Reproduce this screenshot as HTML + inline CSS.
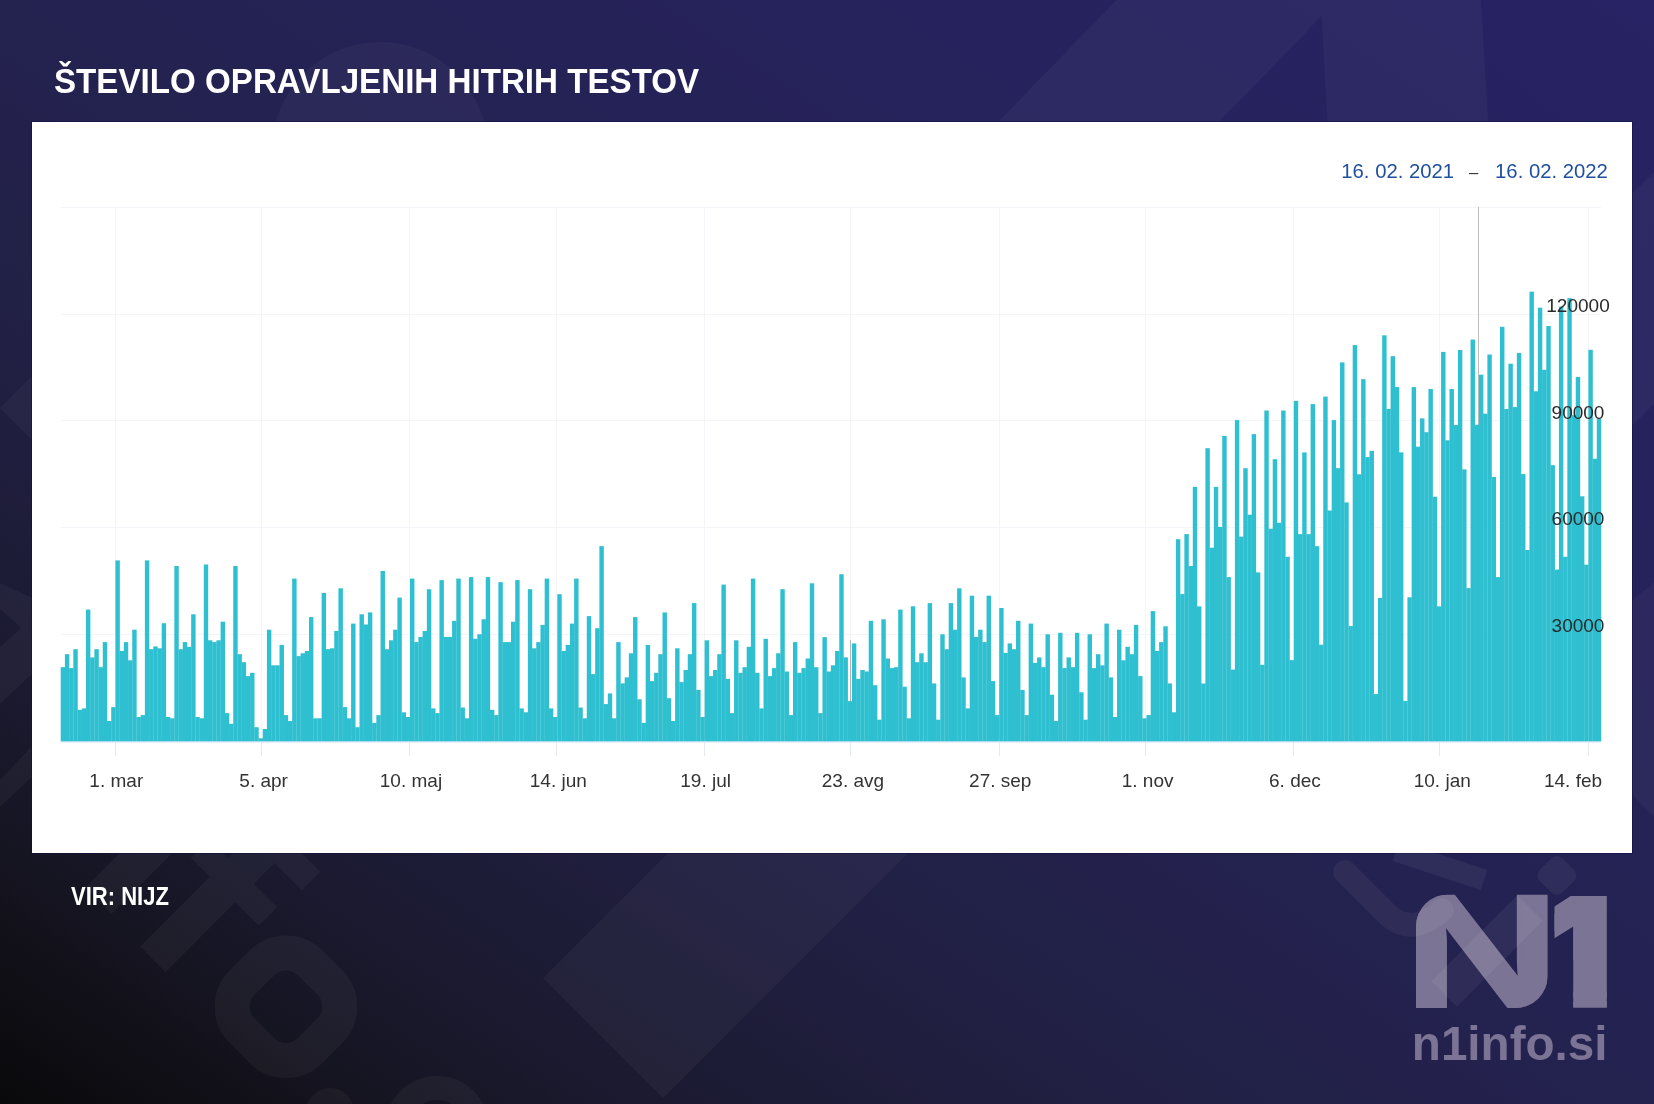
<!DOCTYPE html>
<html lang="sl">
<head>
<meta charset="utf-8">
<title>Število opravljenih hitrih testov</title>
<style>
html,body{margin:0;padding:0;}
body{width:1654px;height:1104px;overflow:hidden;position:relative;font-family:"Liberation Sans",sans-serif;
background:#24224f;}
.bg{position:absolute;left:0;top:0;width:1654px;height:1104px;}
.title{position:absolute;left:54.3px;top:61px;color:#fff;font-weight:700;font-size:35px;line-height:40px;white-space:nowrap;transform-origin:0 0;transform:scaleX(0.947);}
.panel{position:absolute;left:32px;top:122px;width:1600px;height:731px;background:#fff;box-shadow:0 0 0 1px rgba(16,12,60,0.5);}
.src{position:absolute;left:71px;top:880px;color:#fff;font-weight:700;font-size:25.6px;line-height:32px;white-space:nowrap;transform-origin:0 0;transform:scaleX(0.861);}
svg text{font-family:"Liberation Sans",sans-serif;}
</style>
</head>
<body>
<svg class="bg" width="1654" height="1104" viewBox="0 0 1654 1104">
<defs>
<linearGradient id="g1" gradientUnits="userSpaceOnUse" x1="1336.5" y1="-211.5" x2="317.5" y2="1315.5">
<stop offset="0" stop-color="#272364"/>
<stop offset="0.25" stop-color="#26225c"/>
<stop offset="0.45" stop-color="#242252"/>
<stop offset="0.5" stop-color="#24224f"/>
<stop offset="0.55" stop-color="#23214c"/>
<stop offset="0.6" stop-color="#222148"/>
<stop offset="0.65" stop-color="#212044"/>
<stop offset="0.7" stop-color="#201e3e"/>
<stop offset="0.75" stop-color="#1d1c37"/>
<stop offset="0.8" stop-color="#1b1a31"/>
<stop offset="0.85" stop-color="#181728"/>
<stop offset="0.9" stop-color="#14131e"/>
<stop offset="0.95" stop-color="#0f0e14"/>
<stop offset="1" stop-color="#09090b"/>
</linearGradient>
</defs>
<rect width="1654" height="1104" fill="#24224f"/>
<rect width="1654" height="1104" fill="url(#g1)"/>
<g fill="none" stroke="#fff" opacity="0.04">
<line x1="98.5" y1="900.7" x2="170" y2="829.2" stroke-width="37"/>
<path d="M152.9,959.2 L300,812" stroke-width="36"/>
<path d="M200,848.5 L268,916.5 M275,845 L311,881" stroke-width="26"/>
<rect x="238" y="958.7" width="96" height="96" rx="34" stroke-width="35" transform="rotate(45 286 1006.7)"/>
<circle cx="437" cy="1128" r="40" stroke-width="24"/>
<circle cx="330" cy="1112" r="14" stroke-width="20"/>
</g>
<g fill="#fff" fill-opacity="0.035">
<polygon points="543,978 668,853 908,853 663,1098"/>
<polygon points="998,122 1116.5,0 1481,0 1488,122 1327.5,122 1321.6,16 1219,122"/>
<polygon points="0,408 55,353 55,463"/>
<polygon points="0,583 32,598 32,674 0,704 0,647 21,628 0,609"/>
<polygon points="0,780 32,746 32,777 0,807"/>
<polygon points="1632,194 1654,172 1654,404 1632,426"/>
<polygon points="1632,600 1654,583 1654,817 1632,795"/>
<circle cx="380" cy="150" r="108"/>
</g>
</svg>
<div class="title" id="title">ŠTEVILO OPRAVLJENIH HITRIH TESTOV</div>
<div class="panel">
<svg width="1600" height="731" viewBox="0 0 1600 731">
<g stroke="#f4f5f8" stroke-width="1" fill="none"><line x1="29" y1="85.5" x2="1569" y2="85.5"/><line x1="29" y1="192.5" x2="1569" y2="192.5"/><line x1="29" y1="298.5" x2="1569" y2="298.5"/><line x1="29" y1="405.5" x2="1569" y2="405.5"/><line x1="29" y1="512.5" x2="1569" y2="512.5"/><line x1="83.5" y1="85.5" x2="83.5" y2="619.5"/><line x1="229.5" y1="85.5" x2="229.5" y2="619.5"/><line x1="377.5" y1="85.5" x2="377.5" y2="619.5"/><line x1="524.5" y1="85.5" x2="524.5" y2="619.5"/><line x1="672.5" y1="85.5" x2="672.5" y2="619.5"/><line x1="818.5" y1="85.5" x2="818.5" y2="619.5"/><line x1="967.5" y1="85.5" x2="967.5" y2="619.5"/><line x1="1113.5" y1="85.5" x2="1113.5" y2="619.5"/><line x1="1261.5" y1="85.5" x2="1261.5" y2="619.5"/><line x1="1407.5" y1="85.5" x2="1407.5" y2="619.5"/><line x1="1556.5" y1="85.5" x2="1556.5" y2="619.5"/></g>
<line x1="1446.5" y1="85" x2="1446.5" y2="303" stroke="#bdbdbd" stroke-width="1"/>
<line x1="818.5" y1="518" x2="818.5" y2="580" stroke="#b4b4b4" stroke-width="1"/>
<g fill="#2ebfd0">
<rect x="28.7" y="545.2" width="4.41" height="74.4"/>
<rect x="32.91" y="532.2" width="4.41" height="87.4"/>
<rect x="37.12" y="546.1" width="4.41" height="73.5"/>
<rect x="41.33" y="527.2" width="4.41" height="92.4"/>
<rect x="45.53" y="587.9" width="4.41" height="31.7"/>
<rect x="49.74" y="586.4" width="4.41" height="33.2"/>
<rect x="53.95" y="487.6" width="4.41" height="132"/>
<rect x="58.16" y="535.4" width="4.41" height="84.2"/>
<rect x="62.37" y="527.2" width="4.41" height="92.4"/>
<rect x="66.58" y="545.2" width="4.41" height="74.4"/>
<rect x="70.78" y="520.1" width="4.41" height="99.5"/>
<rect x="74.99" y="599" width="4.41" height="20.6"/>
<rect x="79.2" y="585.1" width="4.41" height="34.5"/>
<rect x="83.41" y="438.4" width="4.41" height="181.2"/>
<rect x="87.62" y="529" width="4.41" height="90.6"/>
<rect x="91.83" y="520.1" width="4.41" height="99.5"/>
<rect x="96.04" y="538.3" width="4.41" height="81.3"/>
<rect x="100.24" y="507.7" width="4.41" height="111.9"/>
<rect x="104.45" y="595" width="4.41" height="24.6"/>
<rect x="108.66" y="593.1" width="4.41" height="26.5"/>
<rect x="112.87" y="438.4" width="4.41" height="181.2"/>
<rect x="117.08" y="527.2" width="4.41" height="92.4"/>
<rect x="121.29" y="524.4" width="4.41" height="95.2"/>
<rect x="125.5" y="526.3" width="4.41" height="93.3"/>
<rect x="129.7" y="501.2" width="4.41" height="118.4"/>
<rect x="133.91" y="595" width="4.41" height="24.6"/>
<rect x="138.12" y="596.3" width="4.41" height="23.3"/>
<rect x="142.33" y="444" width="4.41" height="175.6"/>
<rect x="146.54" y="527.2" width="4.41" height="92.4"/>
<rect x="150.75" y="520.1" width="4.41" height="99.5"/>
<rect x="154.95" y="524.8" width="4.41" height="94.8"/>
<rect x="159.16" y="492.3" width="4.41" height="127.3"/>
<rect x="163.37" y="595" width="4.41" height="24.6"/>
<rect x="167.58" y="596.3" width="4.41" height="23.3"/>
<rect x="171.79" y="442.5" width="4.41" height="177.1"/>
<rect x="176" y="518.3" width="4.41" height="101.3"/>
<rect x="180.21" y="520.1" width="4.41" height="99.5"/>
<rect x="184.41" y="518.3" width="4.41" height="101.3"/>
<rect x="188.62" y="499.7" width="4.41" height="119.9"/>
<rect x="192.83" y="591.1" width="4.41" height="28.5"/>
<rect x="197.04" y="601.8" width="4.41" height="17.8"/>
<rect x="201.25" y="444" width="4.41" height="175.6"/>
<rect x="205.46" y="532.2" width="4.41" height="87.4"/>
<rect x="209.67" y="540.2" width="4.41" height="79.4"/>
<rect x="213.87" y="554.1" width="4.41" height="65.5"/>
<rect x="218.08" y="550.8" width="4.41" height="68.8"/>
<rect x="222.29" y="605.2" width="4.41" height="14.4"/>
<rect x="226.5" y="616.3" width="4.41" height="3.3"/>
<rect x="230.71" y="607" width="4.41" height="12.6"/>
<rect x="234.92" y="507.7" width="4.41" height="111.9"/>
<rect x="239.12" y="543.3" width="4.41" height="76.3"/>
<rect x="243.33" y="543.3" width="4.41" height="76.3"/>
<rect x="247.54" y="522.9" width="4.41" height="96.7"/>
<rect x="251.75" y="593.1" width="4.41" height="26.5"/>
<rect x="255.96" y="599" width="4.41" height="20.6"/>
<rect x="260.17" y="456.6" width="4.41" height="163"/>
<rect x="264.38" y="534.1" width="4.41" height="85.5"/>
<rect x="268.58" y="531.3" width="4.41" height="88.3"/>
<rect x="272.79" y="529" width="4.41" height="90.6"/>
<rect x="277" y="495.1" width="4.41" height="124.5"/>
<rect x="281.21" y="596.3" width="4.41" height="23.3"/>
<rect x="285.42" y="596.3" width="4.41" height="23.3"/>
<rect x="289.63" y="470.9" width="4.41" height="148.7"/>
<rect x="293.84" y="527.2" width="4.41" height="92.4"/>
<rect x="298.04" y="526.3" width="4.41" height="93.3"/>
<rect x="302.25" y="509" width="4.41" height="110.6"/>
<rect x="306.46" y="466.3" width="4.41" height="153.3"/>
<rect x="310.67" y="585.1" width="4.41" height="34.5"/>
<rect x="314.88" y="596.3" width="4.41" height="23.3"/>
<rect x="319.09" y="501.6" width="4.41" height="118"/>
<rect x="323.29" y="605.2" width="4.41" height="14.4"/>
<rect x="327.5" y="492.3" width="4.41" height="127.3"/>
<rect x="331.71" y="502.5" width="4.41" height="117.1"/>
<rect x="335.92" y="490.4" width="4.41" height="129.2"/>
<rect x="340.13" y="600.9" width="4.41" height="18.7"/>
<rect x="344.34" y="593.1" width="4.41" height="26.5"/>
<rect x="348.55" y="449" width="4.41" height="170.6"/>
<rect x="352.75" y="527.2" width="4.41" height="92.4"/>
<rect x="356.96" y="518.3" width="4.41" height="101.3"/>
<rect x="361.17" y="507.7" width="4.41" height="111.9"/>
<rect x="365.38" y="475.6" width="4.41" height="144"/>
<rect x="369.59" y="590.3" width="4.41" height="29.3"/>
<rect x="373.8" y="595" width="4.41" height="24.6"/>
<rect x="378.01" y="456.6" width="4.41" height="163"/>
<rect x="382.21" y="520.1" width="4.41" height="99.5"/>
<rect x="386.42" y="514.9" width="4.41" height="104.7"/>
<rect x="390.63" y="509" width="4.41" height="110.6"/>
<rect x="394.84" y="467.2" width="4.41" height="152.4"/>
<rect x="399.05" y="586.4" width="4.41" height="33.2"/>
<rect x="403.26" y="591.1" width="4.41" height="28.5"/>
<rect x="407.46" y="458.1" width="4.41" height="161.5"/>
<rect x="411.67" y="514.9" width="4.41" height="104.7"/>
<rect x="415.88" y="514.9" width="4.41" height="104.7"/>
<rect x="420.09" y="498.8" width="4.41" height="120.8"/>
<rect x="424.3" y="456.6" width="4.41" height="163"/>
<rect x="428.51" y="585.5" width="4.41" height="34.1"/>
<rect x="432.72" y="596.3" width="4.41" height="23.3"/>
<rect x="436.92" y="455.1" width="4.41" height="164.5"/>
<rect x="441.13" y="516.8" width="4.41" height="102.8"/>
<rect x="445.34" y="512.3" width="4.41" height="107.3"/>
<rect x="449.55" y="497.3" width="4.41" height="122.3"/>
<rect x="453.76" y="455.1" width="4.41" height="164.5"/>
<rect x="457.97" y="587.9" width="4.41" height="31.7"/>
<rect x="462.18" y="593.1" width="4.41" height="26.5"/>
<rect x="466.38" y="460.2" width="4.41" height="159.4"/>
<rect x="470.59" y="520.1" width="4.41" height="99.5"/>
<rect x="474.8" y="520.1" width="4.41" height="99.5"/>
<rect x="479.01" y="499.7" width="4.41" height="119.9"/>
<rect x="483.22" y="458.1" width="4.41" height="161.5"/>
<rect x="487.43" y="586.4" width="4.41" height="33.2"/>
<rect x="491.63" y="590.3" width="4.41" height="29.3"/>
<rect x="495.84" y="467.2" width="4.41" height="152.4"/>
<rect x="500.05" y="526.3" width="4.41" height="93.3"/>
<rect x="504.26" y="520.1" width="4.41" height="99.5"/>
<rect x="508.47" y="502.9" width="4.41" height="116.7"/>
<rect x="512.68" y="456.6" width="4.41" height="163"/>
<rect x="516.89" y="586.4" width="4.41" height="33.2"/>
<rect x="521.09" y="595" width="4.41" height="24.6"/>
<rect x="525.3" y="472.2" width="4.41" height="147.4"/>
<rect x="529.51" y="529" width="4.41" height="90.6"/>
<rect x="533.72" y="522.9" width="4.41" height="96.7"/>
<rect x="537.93" y="501.6" width="4.41" height="118"/>
<rect x="542.14" y="456.6" width="4.41" height="163"/>
<rect x="546.35" y="585.5" width="4.41" height="34.1"/>
<rect x="550.55" y="596.3" width="4.41" height="23.3"/>
<rect x="554.76" y="494.1" width="4.41" height="125.5"/>
<rect x="558.97" y="552.1" width="4.41" height="67.5"/>
<rect x="563.18" y="506.2" width="4.41" height="113.4"/>
<rect x="567.39" y="424.1" width="4.41" height="195.5"/>
<rect x="571.6" y="582.1" width="4.41" height="37.5"/>
<rect x="575.81" y="571.4" width="4.41" height="48.2"/>
<rect x="580.01" y="596.3" width="4.41" height="23.3"/>
<rect x="584.22" y="520.1" width="4.41" height="99.5"/>
<rect x="588.43" y="561.4" width="4.41" height="58.2"/>
<rect x="592.64" y="555.4" width="4.41" height="64.2"/>
<rect x="596.85" y="531.3" width="4.41" height="88.3"/>
<rect x="601.06" y="495.1" width="4.41" height="124.5"/>
<rect x="605.26" y="577.3" width="4.41" height="42.3"/>
<rect x="609.47" y="600.9" width="4.41" height="18.7"/>
<rect x="613.68" y="522.9" width="4.41" height="96.7"/>
<rect x="617.89" y="559.1" width="4.41" height="60.5"/>
<rect x="622.1" y="550.8" width="4.41" height="68.8"/>
<rect x="626.31" y="532.2" width="4.41" height="87.4"/>
<rect x="630.52" y="490.4" width="4.41" height="129.2"/>
<rect x="634.72" y="576.2" width="4.41" height="43.4"/>
<rect x="638.93" y="599" width="4.41" height="20.6"/>
<rect x="643.14" y="526.3" width="4.41" height="93.3"/>
<rect x="647.35" y="560.1" width="4.41" height="59.5"/>
<rect x="651.56" y="548" width="4.41" height="71.6"/>
<rect x="655.77" y="532.2" width="4.41" height="87.4"/>
<rect x="659.98" y="481.1" width="4.41" height="138.5"/>
<rect x="664.18" y="568" width="4.41" height="51.6"/>
<rect x="668.39" y="595" width="4.41" height="24.6"/>
<rect x="672.6" y="518.3" width="4.41" height="101.3"/>
<rect x="676.81" y="554.1" width="4.41" height="65.5"/>
<rect x="681.02" y="548" width="4.41" height="71.6"/>
<rect x="685.23" y="532.2" width="4.41" height="87.4"/>
<rect x="689.43" y="462.6" width="4.41" height="157"/>
<rect x="693.64" y="556.9" width="4.41" height="62.7"/>
<rect x="697.85" y="591.1" width="4.41" height="28.5"/>
<rect x="702.06" y="518.3" width="4.41" height="101.3"/>
<rect x="706.27" y="550.8" width="4.41" height="68.8"/>
<rect x="710.48" y="545.2" width="4.41" height="74.4"/>
<rect x="714.69" y="524.8" width="4.41" height="94.8"/>
<rect x="718.89" y="456.6" width="4.41" height="163"/>
<rect x="723.1" y="550.8" width="4.41" height="68.8"/>
<rect x="727.31" y="586.4" width="4.41" height="33.2"/>
<rect x="731.52" y="516.8" width="4.41" height="102.8"/>
<rect x="735.73" y="554.1" width="4.41" height="65.5"/>
<rect x="739.94" y="546.1" width="4.41" height="73.5"/>
<rect x="744.14" y="531.3" width="4.41" height="88.3"/>
<rect x="748.35" y="467.2" width="4.41" height="152.4"/>
<rect x="752.56" y="549.5" width="4.41" height="70.1"/>
<rect x="756.77" y="593.1" width="4.41" height="26.5"/>
<rect x="760.98" y="520.1" width="4.41" height="99.5"/>
<rect x="765.19" y="550.8" width="4.41" height="68.8"/>
<rect x="769.4" y="546.1" width="4.41" height="73.5"/>
<rect x="773.6" y="536.5" width="4.41" height="83.1"/>
<rect x="777.81" y="461.3" width="4.41" height="158.3"/>
<rect x="782.02" y="545.2" width="4.41" height="74.4"/>
<rect x="786.23" y="591.1" width="4.41" height="28.5"/>
<rect x="790.44" y="515.1" width="4.41" height="104.5"/>
<rect x="794.65" y="549.5" width="4.41" height="70.1"/>
<rect x="798.86" y="543.3" width="4.41" height="76.3"/>
<rect x="803.06" y="529" width="4.41" height="90.6"/>
<rect x="807.27" y="452.2" width="4.41" height="167.4"/>
<rect x="811.48" y="535.4" width="4.41" height="84.2"/>
<rect x="815.69" y="579.2" width="4.41" height="40.4"/>
<rect x="819.9" y="521.4" width="4.41" height="98.2"/>
<rect x="824.11" y="556.9" width="4.41" height="62.7"/>
<rect x="828.32" y="548" width="4.41" height="71.6"/>
<rect x="832.52" y="549.5" width="4.41" height="70.1"/>
<rect x="836.73" y="498.8" width="4.41" height="120.8"/>
<rect x="840.94" y="563.2" width="4.41" height="56.4"/>
<rect x="845.15" y="597.7" width="4.41" height="21.9"/>
<rect x="849.36" y="497.3" width="4.41" height="122.3"/>
<rect x="853.57" y="536.5" width="4.41" height="83.1"/>
<rect x="857.77" y="546.1" width="4.41" height="73.5"/>
<rect x="861.98" y="545.2" width="4.41" height="74.4"/>
<rect x="866.19" y="487.6" width="4.41" height="132"/>
<rect x="870.4" y="564.7" width="4.41" height="54.9"/>
<rect x="874.61" y="596.3" width="4.41" height="23.3"/>
<rect x="878.82" y="484.3" width="4.41" height="135.3"/>
<rect x="883.03" y="540.2" width="4.41" height="79.4"/>
<rect x="887.23" y="531.3" width="4.41" height="88.3"/>
<rect x="891.44" y="540.2" width="4.41" height="79.4"/>
<rect x="895.65" y="481.1" width="4.41" height="138.5"/>
<rect x="899.86" y="561.4" width="4.41" height="58.2"/>
<rect x="904.07" y="597.7" width="4.41" height="21.9"/>
<rect x="908.28" y="512.3" width="4.41" height="107.3"/>
<rect x="912.49" y="527.2" width="4.41" height="92.4"/>
<rect x="916.69" y="481.1" width="4.41" height="138.5"/>
<rect x="920.9" y="507.7" width="4.41" height="111.9"/>
<rect x="925.11" y="466.3" width="4.41" height="153.3"/>
<rect x="929.32" y="555.4" width="4.41" height="64.2"/>
<rect x="933.53" y="586.4" width="4.41" height="33.2"/>
<rect x="937.74" y="473.7" width="4.41" height="145.9"/>
<rect x="941.94" y="514.9" width="4.41" height="104.7"/>
<rect x="946.15" y="507.7" width="4.41" height="111.9"/>
<rect x="950.36" y="520.1" width="4.41" height="99.5"/>
<rect x="954.57" y="473.7" width="4.41" height="145.9"/>
<rect x="958.78" y="559.1" width="4.41" height="60.5"/>
<rect x="962.99" y="593.1" width="4.41" height="26.5"/>
<rect x="967.2" y="486" width="4.41" height="133.6"/>
<rect x="971.4" y="530.9" width="4.41" height="88.7"/>
<rect x="975.61" y="521.4" width="4.41" height="98.2"/>
<rect x="979.82" y="527.2" width="4.41" height="92.4"/>
<rect x="984.03" y="498.8" width="4.41" height="120.8"/>
<rect x="988.24" y="568" width="4.41" height="51.6"/>
<rect x="992.45" y="593.1" width="4.41" height="26.5"/>
<rect x="996.65" y="501.6" width="4.41" height="118"/>
<rect x="1000.86" y="540.9" width="4.41" height="78.7"/>
<rect x="1005.07" y="535.4" width="4.41" height="84.2"/>
<rect x="1009.28" y="545.2" width="4.41" height="74.4"/>
<rect x="1013.49" y="512.3" width="4.41" height="107.3"/>
<rect x="1017.7" y="572.7" width="4.41" height="46.9"/>
<rect x="1021.91" y="599" width="4.41" height="20.6"/>
<rect x="1026.11" y="510.8" width="4.41" height="108.8"/>
<rect x="1030.32" y="546.1" width="4.41" height="73.5"/>
<rect x="1034.53" y="535.4" width="4.41" height="84.2"/>
<rect x="1038.74" y="545.2" width="4.41" height="74.4"/>
<rect x="1042.95" y="510.8" width="4.41" height="108.8"/>
<rect x="1047.16" y="570.3" width="4.41" height="49.3"/>
<rect x="1051.37" y="597.7" width="4.41" height="21.9"/>
<rect x="1055.57" y="512.3" width="4.41" height="107.3"/>
<rect x="1059.78" y="546.1" width="4.41" height="73.5"/>
<rect x="1063.99" y="532.2" width="4.41" height="87.4"/>
<rect x="1068.2" y="543.3" width="4.41" height="76.3"/>
<rect x="1072.41" y="501.6" width="4.41" height="118"/>
<rect x="1076.62" y="555.4" width="4.41" height="64.2"/>
<rect x="1080.83" y="595" width="4.41" height="24.6"/>
<rect x="1085.03" y="507.7" width="4.41" height="111.9"/>
<rect x="1089.24" y="538.3" width="4.41" height="81.3"/>
<rect x="1093.45" y="524.8" width="4.41" height="94.8"/>
<rect x="1097.66" y="532.2" width="4.41" height="87.4"/>
<rect x="1101.87" y="502.9" width="4.41" height="116.7"/>
<rect x="1106.08" y="554.1" width="4.41" height="65.5"/>
<rect x="1110.28" y="596.3" width="4.41" height="23.3"/>
<rect x="1114.49" y="593.1" width="4.41" height="26.5"/>
<rect x="1118.7" y="489.1" width="4.41" height="130.5"/>
<rect x="1122.91" y="529" width="4.41" height="90.6"/>
<rect x="1127.12" y="520.1" width="4.41" height="99.5"/>
<rect x="1131.33" y="504.3" width="4.41" height="115.3"/>
<rect x="1135.54" y="561.4" width="4.41" height="58.2"/>
<rect x="1139.74" y="590.3" width="4.41" height="29.3"/>
<rect x="1143.95" y="417.2" width="4.41" height="202.4"/>
<rect x="1148.16" y="472.1" width="4.41" height="147.5"/>
<rect x="1152.37" y="412.1" width="4.41" height="207.5"/>
<rect x="1156.58" y="444" width="4.41" height="175.6"/>
<rect x="1160.79" y="364.9" width="4.41" height="254.7"/>
<rect x="1165" y="484.4" width="4.41" height="135.2"/>
<rect x="1169.2" y="561.5" width="4.41" height="58.1"/>
<rect x="1173.41" y="326.2" width="4.41" height="293.4"/>
<rect x="1177.62" y="425.7" width="4.41" height="193.9"/>
<rect x="1181.83" y="364.9" width="4.41" height="254.7"/>
<rect x="1186.04" y="405" width="4.41" height="214.6"/>
<rect x="1190.25" y="314" width="4.41" height="305.6"/>
<rect x="1194.45" y="455.1" width="4.41" height="164.5"/>
<rect x="1198.66" y="547.6" width="4.41" height="72"/>
<rect x="1202.87" y="298.1" width="4.41" height="321.5"/>
<rect x="1207.08" y="414.6" width="4.41" height="205"/>
<rect x="1211.29" y="346.2" width="4.41" height="273.4"/>
<rect x="1215.5" y="392.7" width="4.41" height="226.9"/>
<rect x="1219.71" y="312.1" width="4.41" height="307.5"/>
<rect x="1223.91" y="450.4" width="4.41" height="169.2"/>
<rect x="1228.12" y="542.8" width="4.41" height="76.8"/>
<rect x="1232.33" y="288.5" width="4.41" height="331.1"/>
<rect x="1236.54" y="406.7" width="4.41" height="212.9"/>
<rect x="1240.75" y="337.2" width="4.41" height="282.4"/>
<rect x="1244.96" y="400.8" width="4.41" height="218.8"/>
<rect x="1249.16" y="288.5" width="4.41" height="331.1"/>
<rect x="1253.37" y="434.8" width="4.41" height="184.8"/>
<rect x="1257.58" y="538.1" width="4.41" height="81.5"/>
<rect x="1261.79" y="278.9" width="4.41" height="340.7"/>
<rect x="1266" y="412.1" width="4.41" height="207.5"/>
<rect x="1270.21" y="330.4" width="4.41" height="289.2"/>
<rect x="1274.42" y="412.1" width="4.41" height="207.5"/>
<rect x="1278.62" y="282.1" width="4.41" height="337.5"/>
<rect x="1282.83" y="424.2" width="4.41" height="195.4"/>
<rect x="1287.04" y="522.7" width="4.41" height="96.9"/>
<rect x="1291.25" y="274.6" width="4.41" height="345"/>
<rect x="1295.46" y="388.5" width="4.41" height="231.1"/>
<rect x="1299.67" y="298.1" width="4.41" height="321.5"/>
<rect x="1303.88" y="346.2" width="4.41" height="273.4"/>
<rect x="1308.08" y="240.4" width="4.41" height="379.2"/>
<rect x="1312.29" y="380.4" width="4.41" height="239.2"/>
<rect x="1316.5" y="504" width="4.41" height="115.6"/>
<rect x="1320.71" y="223.1" width="4.41" height="396.5"/>
<rect x="1324.92" y="352.3" width="4.41" height="267.3"/>
<rect x="1329.13" y="257.2" width="4.41" height="362.4"/>
<rect x="1333.34" y="335.1" width="4.41" height="284.5"/>
<rect x="1337.54" y="328.9" width="4.41" height="290.7"/>
<rect x="1341.75" y="572.1" width="4.41" height="47.5"/>
<rect x="1345.96" y="475.9" width="4.41" height="143.7"/>
<rect x="1350.17" y="213.3" width="4.41" height="406.3"/>
<rect x="1354.38" y="287" width="4.41" height="332.6"/>
<rect x="1358.59" y="234.2" width="4.41" height="385.4"/>
<rect x="1362.79" y="265.1" width="4.41" height="354.5"/>
<rect x="1367" y="330.4" width="4.41" height="289.2"/>
<rect x="1371.21" y="578.9" width="4.41" height="40.7"/>
<rect x="1375.42" y="475.3" width="4.41" height="144.3"/>
<rect x="1379.63" y="265.1" width="4.41" height="354.5"/>
<rect x="1383.84" y="324.7" width="4.41" height="294.9"/>
<rect x="1388.05" y="296.4" width="4.41" height="323.2"/>
<rect x="1392.25" y="310.2" width="4.41" height="309.4"/>
<rect x="1396.46" y="267" width="4.41" height="352.6"/>
<rect x="1400.67" y="374.7" width="4.41" height="244.9"/>
<rect x="1404.88" y="484.4" width="4.41" height="135.2"/>
<rect x="1409.09" y="229.9" width="4.41" height="389.7"/>
<rect x="1413.3" y="318.3" width="4.41" height="301.3"/>
<rect x="1417.51" y="267" width="4.41" height="352.6"/>
<rect x="1421.71" y="303" width="4.41" height="316.6"/>
<rect x="1425.92" y="228" width="4.41" height="391.6"/>
<rect x="1430.13" y="347.4" width="4.41" height="272.2"/>
<rect x="1434.34" y="466.1" width="4.41" height="153.5"/>
<rect x="1438.55" y="217.6" width="4.41" height="402"/>
<rect x="1442.76" y="302.7" width="4.41" height="316.9"/>
<rect x="1446.96" y="252.7" width="4.41" height="366.9"/>
<rect x="1451.17" y="291.7" width="4.41" height="327.9"/>
<rect x="1455.38" y="232.5" width="4.41" height="387.1"/>
<rect x="1459.59" y="354.9" width="4.41" height="264.7"/>
<rect x="1463.8" y="455.1" width="4.41" height="164.5"/>
<rect x="1468.01" y="204.8" width="4.41" height="414.8"/>
<rect x="1472.22" y="287" width="4.41" height="332.6"/>
<rect x="1476.42" y="241.7" width="4.41" height="377.9"/>
<rect x="1480.63" y="285.1" width="4.41" height="334.5"/>
<rect x="1484.84" y="231" width="4.41" height="388.6"/>
<rect x="1489.05" y="352.1" width="4.41" height="267.5"/>
<rect x="1493.26" y="428" width="4.41" height="191.6"/>
<rect x="1497.47" y="169.7" width="4.41" height="449.9"/>
<rect x="1501.67" y="269.3" width="4.41" height="350.3"/>
<rect x="1505.88" y="185.7" width="4.41" height="433.9"/>
<rect x="1510.09" y="247.8" width="4.41" height="371.8"/>
<rect x="1514.3" y="204" width="4.41" height="415.6"/>
<rect x="1518.51" y="343.2" width="4.41" height="276.4"/>
<rect x="1522.72" y="447.6" width="4.41" height="172"/>
<rect x="1526.93" y="184.6" width="4.41" height="435"/>
<rect x="1531.13" y="434.8" width="4.41" height="184.8"/>
<rect x="1535.34" y="176.1" width="4.41" height="443.5"/>
<rect x="1539.55" y="293.2" width="4.41" height="326.4"/>
<rect x="1543.76" y="254.9" width="4.41" height="364.7"/>
<rect x="1547.97" y="374.3" width="4.41" height="245.3"/>
<rect x="1552.18" y="442.7" width="4.41" height="176.9"/>
<rect x="1556.39" y="227.8" width="4.41" height="391.8"/>
<rect x="1560.59" y="336.8" width="4.41" height="282.8"/>
<rect x="1564.8" y="296.4" width="4.41" height="323.2"/>
</g>
<line x1="29" y1="620.1" x2="1569" y2="620.1" stroke="#dfe6f6" stroke-width="1"/>
<g stroke="#e5e9f7" stroke-width="1"><line x1="83.5" y1="620" x2="83.5" y2="634"/><line x1="229.5" y1="620" x2="229.5" y2="634"/><line x1="377.5" y1="620" x2="377.5" y2="634"/><line x1="524.5" y1="620" x2="524.5" y2="634"/><line x1="672.5" y1="620" x2="672.5" y2="634"/><line x1="818.5" y1="620" x2="818.5" y2="634"/><line x1="967.5" y1="620" x2="967.5" y2="634"/><line x1="1113.5" y1="620" x2="1113.5" y2="634"/><line x1="1261.5" y1="620" x2="1261.5" y2="634"/><line x1="1407.5" y1="620" x2="1407.5" y2="634"/><line x1="1556.5" y1="620" x2="1556.5" y2="634"/></g>
<g font-size="19" fill="#333" text-anchor="middle"><text x="84.3" y="665">1. mar</text><text x="231.63" y="665">5. apr</text><text x="378.96" y="665">10. maj</text><text x="526.29" y="665">14. jun</text><text x="673.62" y="665">19. jul</text><text x="820.95" y="665">23. avg</text><text x="968.28" y="665">27. sep</text><text x="1115.61" y="665">1. nov</text><text x="1262.94" y="665">6. dec</text><text x="1410.27" y="665">10. jan</text><text x="1541" y="665">14. feb</text></g>
<g font-size="19" fill="#2a2a2a" text-anchor="middle"><text x="1546" y="189.88">120000</text><text x="1546" y="296.66">90000</text><text x="1546" y="403.44">60000</text><text x="1546" y="510.22">30000</text></g>
<g font-size="20.3" fill="#1f4f9f"><text x="1309.3" y="56.2">16. 02. 2021</text><text x="1437" y="55.5" fill="#333" font-size="16.7">–</text><text x="1463.1" y="56.2">16. 02. 2022</text></g>
</svg>
</div>
<div class="src" id="src">VIR: NIJZ</div>
<svg class="bg" width="1654" height="1104" viewBox="0 0 1654 1104" style="pointer-events:none">
<defs>
<clipPath id="cn"><path d="M1416,1008 V926 A31.5,31.5 0 0 1 1447.5,894.7 H1547.5 V976.5 A31.5,31.5 0 0 1 1516,1008 Z"/></clipPath>
<clipPath id="c1"><polygon points="1554.5,896 1606.8,896 1606.8,1007.5 1573.2,1007.5 1573.2,960 1554.5,960"/></clipPath>
</defs>
<g fill="#7b7494" font-weight="700">
<g clip-path="url(#cn)"><text id="logoN" transform="translate(1416,1008) scale(1.359,1)" x="-10.7" y="0" font-size="164" stroke="#7b7494" stroke-width="3">N</text></g>
<g clip-path="url(#c1)"><text id="logo1" x="1541.2" y="1007.5" font-size="162" stroke="#7b7494" stroke-width="12" stroke-linejoin="miter">1</text></g>
<g fill="none" stroke="#fff" opacity="0.05">
<line x1="1444.2" y1="994" x2="1530" y2="908" stroke-width="36"/>
<rect x="1540.9" y="859.5" width="32" height="32" rx="8" fill="#fff" stroke="none" transform="rotate(45 1556.9 875.5)"/>
<line x1="1396" y1="851" x2="1484" y2="880" stroke-width="21"/>
<path d="M1345,872 L1388,915 Q1412,937 1442,910" stroke-width="23.5" stroke-linecap="round"/>
</g>
<text id="site" transform="translate(1411.8,1059.7) scale(0.972,1)" x="0" y="0" font-size="49">n1info.si</text>
</g>
</svg>
</body>
</html>
